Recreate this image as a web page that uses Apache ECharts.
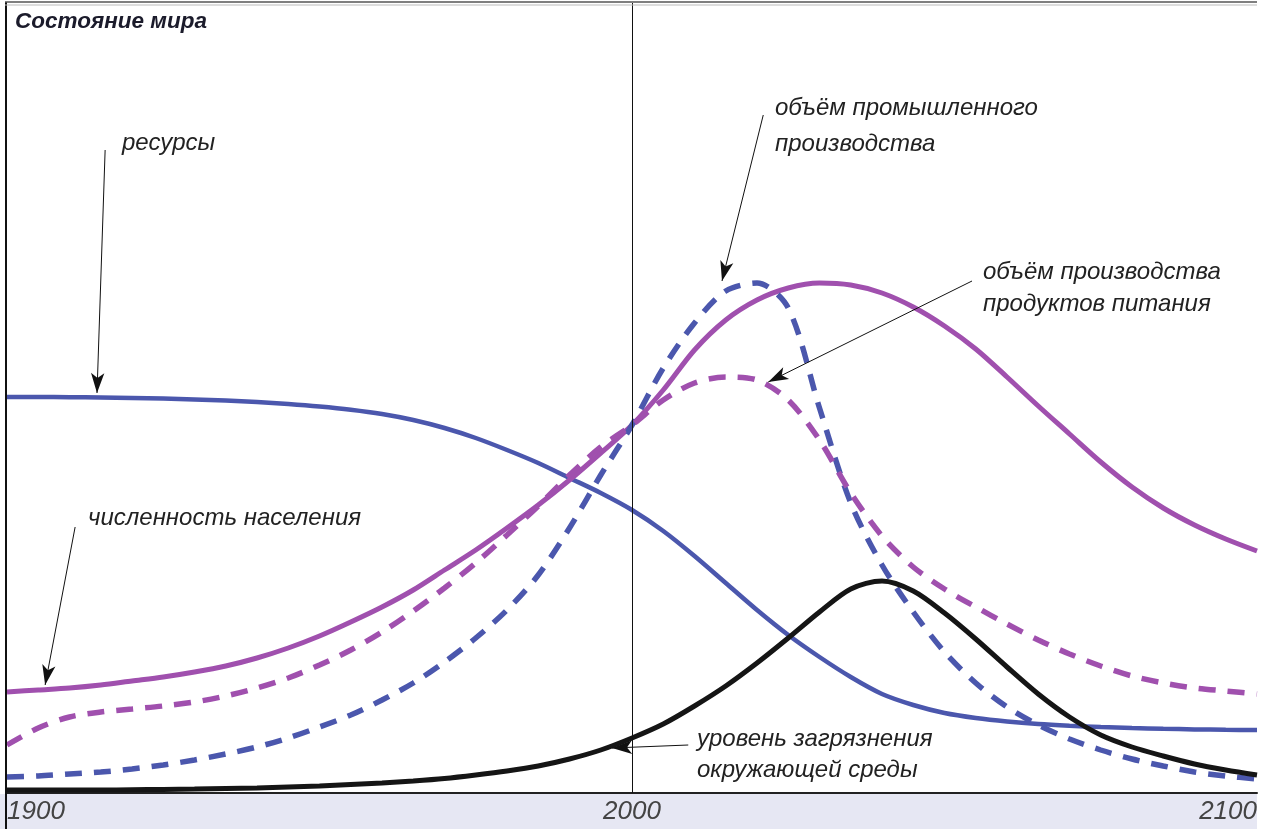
<!DOCTYPE html>
<html><head><meta charset="utf-8">
<script src="https://cdn.jsdelivr.net/npm/echarts@6/dist/echarts.min.js"></script>
<style>html,body{margin:0;padding:0;background:#fff;}#c{width:1269px;height:829px;}</style>
</head><body><div id="c"></div>
<script>
// Years 1900..2100 step 5
const years = [1900,1905,1910,1915,1920,1925,1930,1935,1940,1945,1950,1955,1960,1965,1970,1975,1980,1985,1990,1995,2000,2005,2010,2015,2020,2025,2030,2035,2040,2045,2050,2055,2060,2065,2070,2075,2080,2085,2090,2095,2100];
const xTicks = [1900, 2000, 2100];
const resources  = [396,396,395.8,395.5,395,394.4,393.6,392.5,391,389,386.5,383.3,379,373,365,355,343,330,315,300,283,262,237,210,183,158,136,116,99,88,80,75,71.5,69,67.3,66,65,64.2,63.6,63.2,63];
const population = [101,103,105,108,112,116,121,127,135,145,157,171,186,203,223,243,265,288,313,340,368,403,443,473,493,505,510,508,500,486,467,444,416,387,359,331,306,285,268,254,242];
const industry   = [16,17,19,21,24,28,33,39,46,55,66,78,93,110,131,155,183,218,265,318,368,425,470,502,510,485,385,290,228,181,141,110,86,68,54,43,34,27,21,17,14];
const food       = [48,65,76,81,84,87,91,97,105,115,128,143,161,182,205,230,258,287,318,346,368,393,410,416,413,393,353,300,257,226,204,186,169,153,139,127,117,110,105,102,99];
const pollution  = [3,3,3,3,3.3,3.6,4,4.5,5,6,7,8.5,10,12,14.5,18,22,27,34,43,55,69,87,107,130,155,181,204,212,202,180,154,126,99,76,58,46,37,29,23,18];
const title = 'Состояние мира';
const labels = [
  {text:'ресурсы', from:[1915.7,643], to:[1914.4,400], tx:122, ty:125, lh:36},
  {text:'численность населения', from:[1910.9,266], to:[1906.1,108], tx:88, ty:500, lh:36},
  {text:'объём промышленного\nпроизводства', from:[2021.0,678], to:[2014.4,512], tx:775, ty:90, lh:36},
  {text:'объём производства\nпродуктов питания', from:[2054.4,512], to:[2021.8,411], tx:983, ty:256, lh:32},
  {text:'уровень загрязнения\nокружающей среды', from:[2009.0,48], to:[1996.8,45], tx:697, ty:724, lh:31}
];

const BLUE = '#4b57ad', PURPLE = '#a050ae', BLACK = '#151515';
const pairs = arr => years.map((y,i)=>[y, arr[i]]);
function mk(name, arr, color, dashed, width){
  return {name, type:'line', data:pairs(arr), smooth:0.3, symbol:'none', silent:true,
    lineStyle:{color, width, type: dashed ? [17,12] : 'solid', cap:'butt'}, z:3};
}
const chart = echarts.init(document.getElementById('c'), null, {renderer:'canvas'});
const series = [
  mk('resources', resources, BLUE, false, 4.5),
  mk('population', population, PURPLE, false, 5),
  mk('industry', industry, BLUE, true, 5.5),
  mk('food', food, PURPLE, true, 5.5),
  mk('pollution', pollution, BLACK, false, 5)
];
// arrows + 2000 line
series.push({type:'line', data:[], silent:true, markLine:{silent:true, animation:false,
  symbol:['none','arrow'], symbolSize:[10,20],
  lineStyle:{color:'#111', width:1, type:'solid'}, label:{show:false},
  data: labels.map(l=>[{coord:l.from},{coord:l.to}]).concat([[{coord:[2000,0], symbol:'none'},{coord:[2000,790], symbol:'none'}]])
}});
const graphics = [
  {type:'rect', shape:{x:0,y:794,width:1257,height:35}, style:{fill:'#e6e7f3'}, z:-1},
  {type:'line', shape:{x1:6,y1:2,x2:6,y2:829}, style:{stroke:'#111', lineWidth:2}, z:10},
  {type:'line', shape:{x1:5,y1:2,x2:1257,y2:2}, style:{stroke:'#555', lineWidth:1.5}, z:10},
  {type:'line', shape:{x1:5,y1:5,x2:1257,y2:5}, style:{stroke:'#bbb', lineWidth:1}, z:10},
  {type:'text', x:15, y:10, style:{text:title, font:'italic bold 22.5px "Liberation Sans", Arial, sans-serif', fill:'#1b1b2b'}, z:10}
];
labels.forEach(l=>{
  graphics.push({type:'text', x:l.tx, y:l.ty, style:{text:l.text, font:'italic 24px "Liberation Sans", Arial, sans-serif', fill:'#222', lineHeight:l.lh, verticalAlign:'top'}, z:10});
});
chart.setOption({
  animation:false,
  backgroundColor:'#fff',
  grid:{left:7, right:12, top:3, bottom:36},
  xAxis:{type:'value', min:1900, max:2100, interval:100,
    axisLine:{show:true, lineStyle:{color:'#222', width:2}}, axisTick:{show:false}, splitLine:{show:false},
    axisLabel:{color:'#444', fontSize:26, fontStyle:'italic', fontFamily:'"Liberation Sans", Arial, sans-serif', margin:6, alignMinLabel:'left', alignMaxLabel:'right',
      customValues: xTicks, formatter: v => String(v)}},
  yAxis:{type:'value', min:0, max:790, show:false, splitLine:{show:false}},
  series,
  graphic: graphics
});
</script></body></html>
